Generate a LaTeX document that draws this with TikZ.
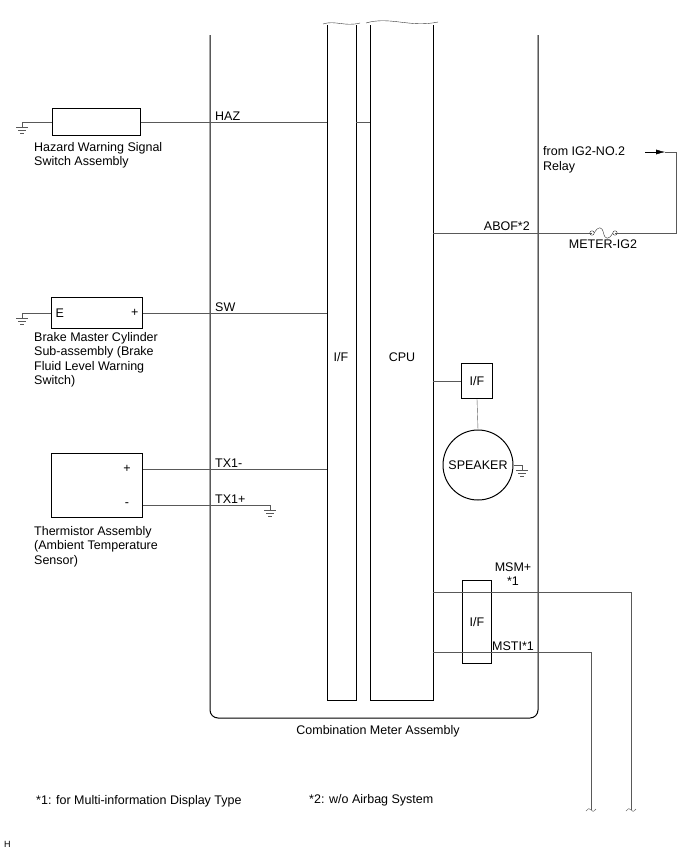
\documentclass[tikz,border=0pt]{standalone}
\usepackage{fontspec}
\setmainfont{Liberation Sans}
\usetikzlibrary{positioning, calc, arrows.meta}
\tikzset{
  wire/.style={gray!70!black, thin},
  frame/.style={black, line width=1pt},
  box/.style={draw, line width=1pt, inner sep=0pt, font=\fontsize{12.5}{14.5}\selectfont},
  lbl/.style={inner sep=1pt, font=\fontsize{12.5}{14.5}\selectfont},
}
\newcommand\gndsym[1]{%
  \draw[wire] (#1) -- ++(0,5)
    ++(-6,0) -- ++(12,0) ++(-10,3) -- ++(8,0) ++(-6,3) -- ++(4,0);}
\begin{document}
\begin{tikzpicture}[x=1pt, y=-1pt]
  \useasboundingbox (0,0) rectangle (688,852);
  % Combination meter frame
  \draw[frame, rounded corners=8pt] (210,35) -- (210,718) -- (538,718) -- (538,35);
  \node[lbl] (cma) at (378,731) {Combination Meter Assembly};
  % I/F and CPU columns
  \draw[frame] (327,25) -- (327,700) -- (356,700) -- (356,25);
  \draw[black!80] (323,24) .. controls (335,20) and (345,27) .. (360,23);
  \draw[frame] (370,25) -- (370,700) -- (433,700) -- (433,25);
  \draw[black!80] (366,23) .. controls (390,16) and (410,28) .. (438,22);
  \node[lbl] (ifa) at (341,357) {I/F};
  \node[lbl] (cpu) at (402,357) {CPU};

  % Hazard switch
  \node[box, minimum width=88pt, minimum height=27pt] (haz) at (96,122) {};
  \node[lbl, anchor=north west, align=left] (hazt) at (33,141) {Hazard Warning Signal\\Switch Assembly};
  \coordinate (g1) at (22,122);
  \draw[wire] (haz.west) -- (g1);
  \gndsym{g1}
  \coordinate (h1) at (327,122);
  \coordinate (h2) at (356,122);
  \coordinate (h3) at (370,122);
  \draw[wire] (haz.east) -- (h1);
  \draw[wire] (h2) -- (h3);
  \node[lbl, anchor=south west] at (214,122) {HAZ};

  % Brake master cylinder
  \node[box, minimum width=91pt, minimum height=31pt] (brk) at (97,313) {};
  \node[lbl, anchor=west] at (brk.west) {~E};
  \node[lbl, anchor=east] at (brk.east) {+~~};
  \node[lbl, anchor=north west, align=left] (brkt) at (33,331) {Brake Master Cylinder\\Sub-assembly (Brake\\Fluid Level Warning\\Switch)};
  \coordinate (g2) at (22,313);
  \draw[wire] (brk.west) -- (g2);
  \gndsym{g2}
  \coordinate (s1) at (327,313);
  \draw[wire] (brk.east) -- (s1);
  \node[lbl, anchor=south west] at (214,313) {SW};

  % Thermistor
  \node[box, minimum width=91pt, minimum height=64pt] (thm) at (97,485) {};
  \node[lbl] at (127,469) {+};
  \node[lbl] at (127,505) {-};
  \node[lbl, anchor=north west, align=left] (thmt) at (33,525) {Thermistor Assembly\\(Ambient Temperature\\Sensor)};
  \coordinate (t1) at (327,469);
  \coordinate (g3) at (270,505);
  \draw[wire] (143,469) -- (t1);
  \draw[wire] (143,505) -- (g3);
  \gndsym{g3}
  \node[lbl, anchor=south west] at (214,469) {TX1-};
  \node[lbl, anchor=south west] at (214,505) {TX1+};

  % Power from relay
  \coordinate (c1) at (433,233);
  \coordinate (f1) at (592,233);
  \coordinate (f2) at (615,233);
  \coordinate (r1) at (676,233);
  \coordinate (r2) at (676,152);
  \coordinate (a1) at (645,152);
  \draw[wire] (c1) -- (f1);
  \draw[black!80] (f1) circle (2.2) (f2) circle (2.2);
  \draw[black!80] ($(f1)+(2.2,0)$) .. controls (598,226) and (602,226) .. (603.5,233)
    .. controls (605,240) and (609,240) .. ($(f2)-(2.2,0)$);
  \draw[wire] (f2) -- (r1) -- (r2) -- (665,152);
  \draw[-{Latex[length=9pt,width=5pt]}, black] (a1) -- (665,152);
  \node[lbl, anchor=south east] at (531,232) {ABOF*2};
  \node[lbl, anchor=north] at (603,239) {METER-IG2};
  \node[lbl, anchor=west, align=left] at (542,160) {from IG2-NO.2\\Relay};

  % Speaker
  \node[box, minimum width=31pt, minimum height=35pt] (ifs) at (477,381) {I/F};
  \node[box, circle, minimum size=70pt] (spk) at (478,465) {SPEAKER};
  \coordinate (c2) at (433,381);
  \draw[wire] (c2) -- (ifs.west);
  \draw[wire] (ifs.south) -- (spk.north);
  \coordinate (g4) at (522,465);
  \draw[wire] (spk.east) -- (g4);
  \gndsym{g4}

  % Multi-information display
  \node[box, minimum width=29pt, minimum height=83pt] (ifm) at (477,622) {I/F};
  \coordinate (m1) at (433,592);
  \coordinate (m2) at (631,592);
  \coordinate (m3) at (631,810);
  \coordinate (n1) at (433,652);
  \coordinate (n2) at (591,652);
  \coordinate (n3) at (591,810);
  \draw[wire] (m1) -- (m2) -- (m3);
  \draw[wire] (n1) -- (n2) -- (n3);
  \draw[wire] (586,811) .. controls (589,808) .. (591,810) .. controls (593,812) .. (596,809);
  \draw[wire] (626,811) .. controls (629,808) .. (631,810) .. controls (633,812) .. (636,809);
  \node[lbl, align=center] at (513,574) {MSM+\\*1};
  \node[lbl, anchor=south west] at (491,652) {MSTI*1};

  % Notes
  \node[lbl, anchor=west] at (35,801) {*1: for Multi-information Display Type};
  \node[lbl, anchor=west] at (308,800) {*2: w/o Airbag System};
  \node[lbl, anchor=west, font=\fontsize{9}{10}\selectfont] at (3,844) {H};
\end{tikzpicture}
\end{document}
